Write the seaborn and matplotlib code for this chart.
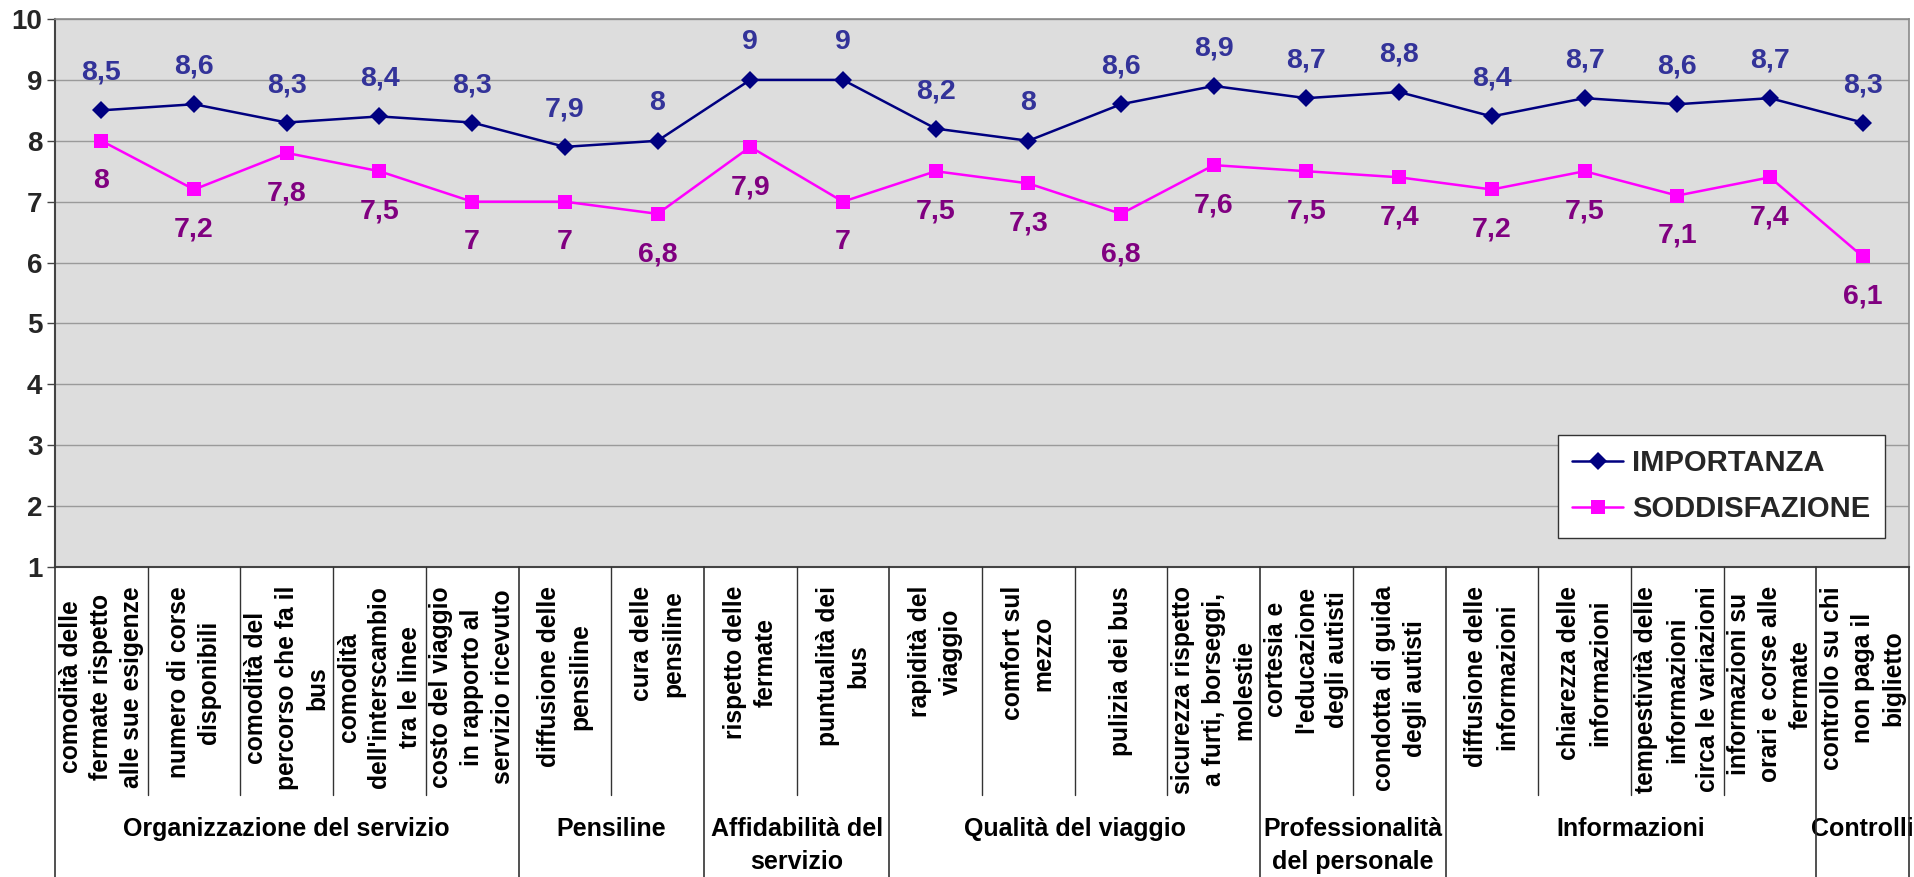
import numpy as np
import pandas as pd
import matplotlib
matplotlib.use("Agg")
import matplotlib.pyplot as plt
import matplotlib.transforms as mtransforms
from matplotlib.lines import Line2D
import seaborn as sns

categories = [
    "comodità delle\nfermate rispetto\nalle sue esigenze",
    "numero di corse\ndisponibili",
    "comodità del\npercorso che fa il\nbus",
    "comodità\ndell'interscambio\ntra le linee",
    "costo del viaggio\nin rapporto al\nservizio ricevuto",
    "diffusione delle\npensiline",
    "cura delle\npensiline",
    "rispetto delle\nfermate",
    "puntualità dei\nbus",
    "rapidità del\nviaggio",
    "comfort sul\nmezzo",
    "pulizia dei bus",
    "sicurezza rispetto\na furti, borseggi,\nmolestie",
    "cortesia e\nl'educazione\ndegli autisti",
    "condotta di guida\ndegli autisti",
    "diffusione delle\ninformazioni",
    "chiarezza delle\ninformazioni",
    "tempestività delle\ninformazioni\ncirca le variazioni",
    "informazioni su\norari e corse alle\nfermate",
    "controllo su chi\nnon paga il\nbiglietto",
]
importanza = [8.5, 8.6, 8.3, 8.4, 8.3, 7.9, 8, 9, 9, 8.2, 8, 8.6, 8.9, 8.7, 8.8, 8.4, 8.7, 8.6, 8.7, 8.3]
soddisfazione = [8, 7.2, 7.8, 7.5, 7, 7, 6.8, 7.9, 7, 7.5, 7.3, 6.8, 7.6, 7.5, 7.4, 7.2, 7.5, 7.1, 7.4, 6.1]
group_names = ["Organizzazione del servizio", "Pensiline", "Affidabilità del\nservizio",
               "Qualità del viaggio", "Professionalità\ndel personale", "Informazioni", "Controlli"]
group_sizes = [5, 2, 2, 4, 2, 4, 1]
y_ticks = [1, 2, 3, 4, 5, 6, 7, 8, 9, 10]

sns.set_theme(style="white")
plt.rcParams['font.family'] = ['Liberation Sans', 'DejaVu Sans']

W, H = 1915, 877
fig = plt.figure(figsize=(W / 100, H / 100), dpi=100)
L, R, T, B = 55, 1909, 19, 567
ax = fig.add_axes([L / W, 1 - B / H, (R - L) / W, (B - T) / H])
ax.set_facecolor("#DDDDDD")

n = len(categories)
pos = np.arange(n)
df_imp = pd.DataFrame({"pos": pos, "val": importanza})
df_sod = pd.DataFrame({"pos": pos, "val": soddisfazione})
sns.lineplot(data=df_imp, x="pos", y="val", color="#000080", marker="D", markersize=9.5,
             markeredgewidth=0, linewidth=1.8, ax=ax, label="IMPORTANZA", zorder=3)
sns.lineplot(data=df_sod, x="pos", y="val", color="#FF00FF", marker="s", markersize=10.5,
             markeredgewidth=0, linewidth=1.8, ax=ax, label="SODDISFAZIONE", zorder=3)

for x, v in zip(pos, importanza):
    ax.annotate(f"{v:g}".replace(".", ","), (x, v), xytext=(0, 27), textcoords="offset points",
                ha="center", va="center", fontsize=20.5, fontweight="bold", color="#333399")
for x, v in zip(pos, soddisfazione):
    ax.annotate(f"{v:g}".replace(".", ","), (x, v), xytext=(0, -29), textcoords="offset points",
                ha="center", va="center", fontsize=20.5, fontweight="bold", color="#800080")

ax.set_xlim(-0.5, n - 0.5)
ax.set_ylim(1, 10)
ax.set_yticks(y_ticks)
ax.set_yticklabels([str(t) for t in y_ticks], fontsize=20, fontweight="bold")
ax.set_xticks([])
ax.set_xlabel("")
ax.set_ylabel("")
ax.yaxis.grid(True, color="#9A9A9A", linewidth=1)
ax.tick_params(axis="y", which="major", direction="out", length=6, width=1, color="#444444", pad=3, left=True)
for s in ["top", "right"]:
    ax.spines[s].set_color("#8A8A8A")
    ax.spines[s].set_linewidth(1.2)
for s in ["left", "bottom"]:
    ax.spines[s].set_color("#444444")
    ax.spines[s].set_linewidth(1.5)

leg = ax.legend(loc="lower right", bbox_to_anchor=((1885 - L) / (R - L), (B - 538) / (B - T)),
                frameon=True, fancybox=False, framealpha=1, edgecolor="#333333",
                prop={"weight": "bold", "size": 21}, handlelength=1.75, handletextpad=0.3,
                borderpad=0.5, labelspacing=0.62, borderaxespad=0)
leg.get_frame().set_linewidth(1.0)

# category labels and dividers in figure pixel y-coordinates
trans = mtransforms.blended_transform_factory(ax.transData, fig.transFigure)
fy = lambda py: 1 - py / H
for x, lab in zip(pos, categories):
    ax.text(x, fy(586), lab, transform=trans, rotation=90, ha="center", va="top",
            multialignment="center", fontsize=17.7, fontweight="bold", linespacing=1.36, color="black")

bounds = np.concatenate([[0], np.cumsum(group_sizes)]) - 0.5
for b in np.arange(-0.5, n):
    is_group = np.any(np.isclose(bounds, b))
    y_end = H if is_group else 795
    fig.add_artist(Line2D([b, b], [fy(B), fy(y_end)], transform=trans, color="#333333",
                          linewidth=1.2 if is_group else 1.0, clip_on=False))

for i, g in enumerate(group_names):
    c = (bounds[i] + bounds[i + 1]) / 2
    ax.text(c, fy(817), g, transform=trans, ha="center", va="top", multialignment="center",
            fontsize=18, fontweight="bold", linespacing=1.45, color="black")

fig.savefig("out.png", dpi=100)
